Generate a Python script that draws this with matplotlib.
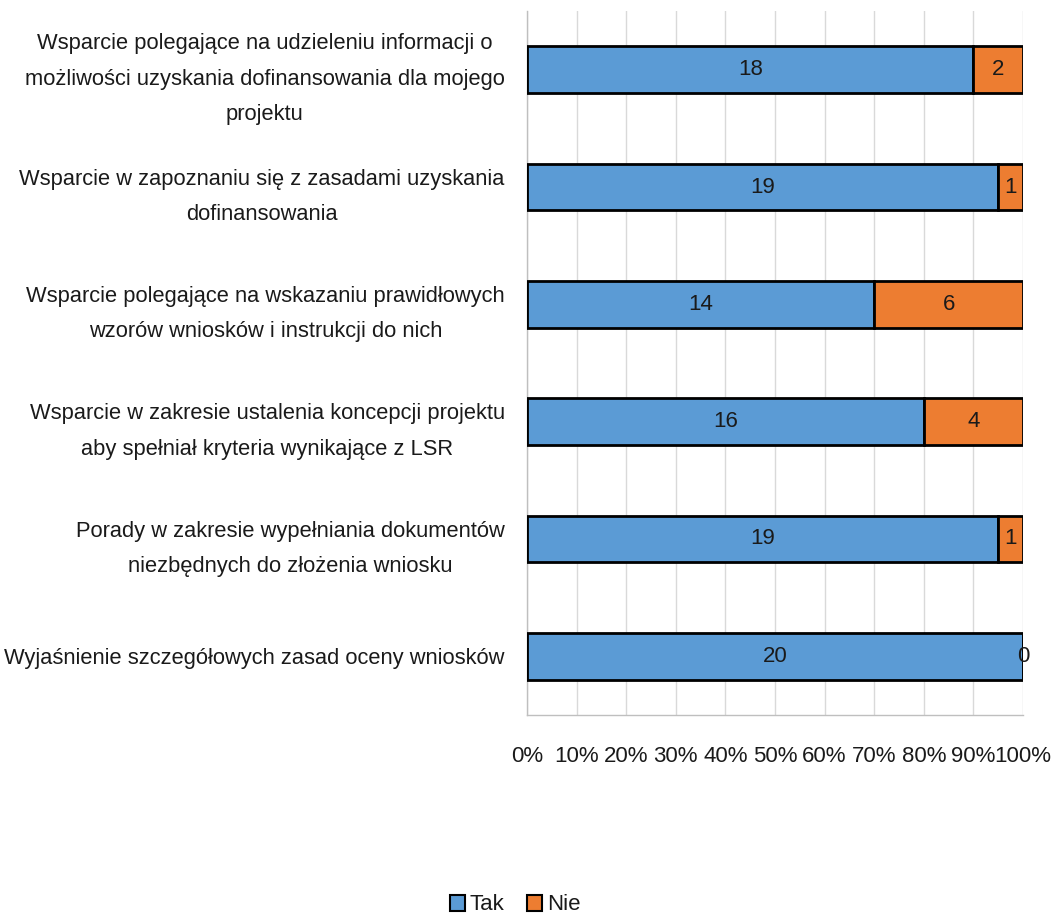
import matplotlib
matplotlib.use("Agg")
import matplotlib.pyplot as plt
from matplotlib import font_manager
from matplotlib.ticker import PercentFormatter

names = {f.name for f in font_manager.fontManager.ttflist}
narrow = "Liberation Sans Narrow" in names
family = "Liberation Sans Narrow" if narrow else "Liberation Sans"
plt.rcParams['font.family'] = [family, 'DejaVu Sans']

categories = [
    "Wsparcie polegające na udzieleniu informacji o\nmożliwości uzyskania dofinansowania dla mojego\nprojektu",
    "Wsparcie w zapoznaniu się z zasadami uzyskania\ndofinansowania",
    "Wsparcie polegające na wskazaniu prawidłowych\nwzorów wniosków i instrukcji do nich",
    "Wsparcie w zakresie ustalenia koncepcji projektu\naby spełniał kryteria wynikające z LSR",
    "Porady w zakresie wypełniania dokumentów\nniezbędnych do złożenia wniosku",
    "Wyjaśnienie szczegółowych zasad oceny wniosków",
]
tak = [18, 19, 14, 16, 19, 20]
nie = [2, 1, 6, 4, 1, 0]
series_names = ["Tak", "Nie"]
colors = ["#5B9BD5", "#ED7D31"]

scale = 1.0 if narrow else 0.82
fs_y = 19.2 * scale
fs = 19.5 * scale

fig = plt.figure(figsize=(10.57, 9.17), dpi=100)
ax = fig.add_axes([527/1057, 1-715/917, (1023-527)/1057, (715-11)/917])

y = list(range(len(categories)))
totals = [a + b for a, b in zip(tak, nie)]
tak_p = [a / t * 100 for a, t in zip(tak, totals)]
nie_p = [b / t * 100 for b, t in zip(nie, totals)]

b1 = ax.barh(y, tak_p, height=0.4, color=colors[0], edgecolor="black", linewidth=2, label=series_names[0], zorder=3)
b2 = ax.barh(y, nie_p, left=tak_p, height=0.4, color=colors[1], edgecolor="black", linewidth=2, label=series_names[1], zorder=3)
ax.bar_label(b1, labels=[str(v) for v in tak], label_type="center", fontsize=fs, zorder=4, color="#1a1a1a")
ax.bar_label(b2, labels=[str(v) for v in nie], label_type="center", fontsize=fs, zorder=4, color="#1a1a1a")

ax.set_xlim(0, 100)
ax.set_ylim(len(categories) - 0.5, -0.5)
ax.set_xticks(range(0, 101, 10))
ax.xaxis.set_major_formatter(PercentFormatter(decimals=0))
ax.set_yticks(y)
ax.set_yticklabels(categories)
ax.tick_params(axis="x", length=0, pad=22, labelsize=fs, labelcolor="#1a1a1a")
ax.tick_params(axis="y", length=0, pad=16, labelsize=fs_y, labelcolor="#1a1a1a")
ax.grid(axis="x", color="#D9D9D9", linewidth=1, zorder=0)
for s in ["top", "right"]:
    ax.spines[s].set_visible(False)
for s in ["left", "bottom"]:
    ax.spines[s].set_color("#BFBFBF")
    ax.spines[s].set_linewidth(1)

leg = fig.legend(handles=[b1, b2], loc="center", bbox_to_anchor=(515/1057, 1-905/917),
                 ncol=2, frameon=False, fontsize=fs, handlelength=0.7, handleheight=0.7,
                 handletextpad=0.2, columnspacing=1.0, labelcolor="#1a1a1a")
for h in leg.legend_handles:
    h.set_linewidth(1.5)

fig.canvas.draw()
for tick in ax.yaxis.get_major_ticks():
    tick.label1.set_multialignment("center")
    tick.label1.set_linespacing(1.9)

fig.savefig("out.png", dpi=100)
